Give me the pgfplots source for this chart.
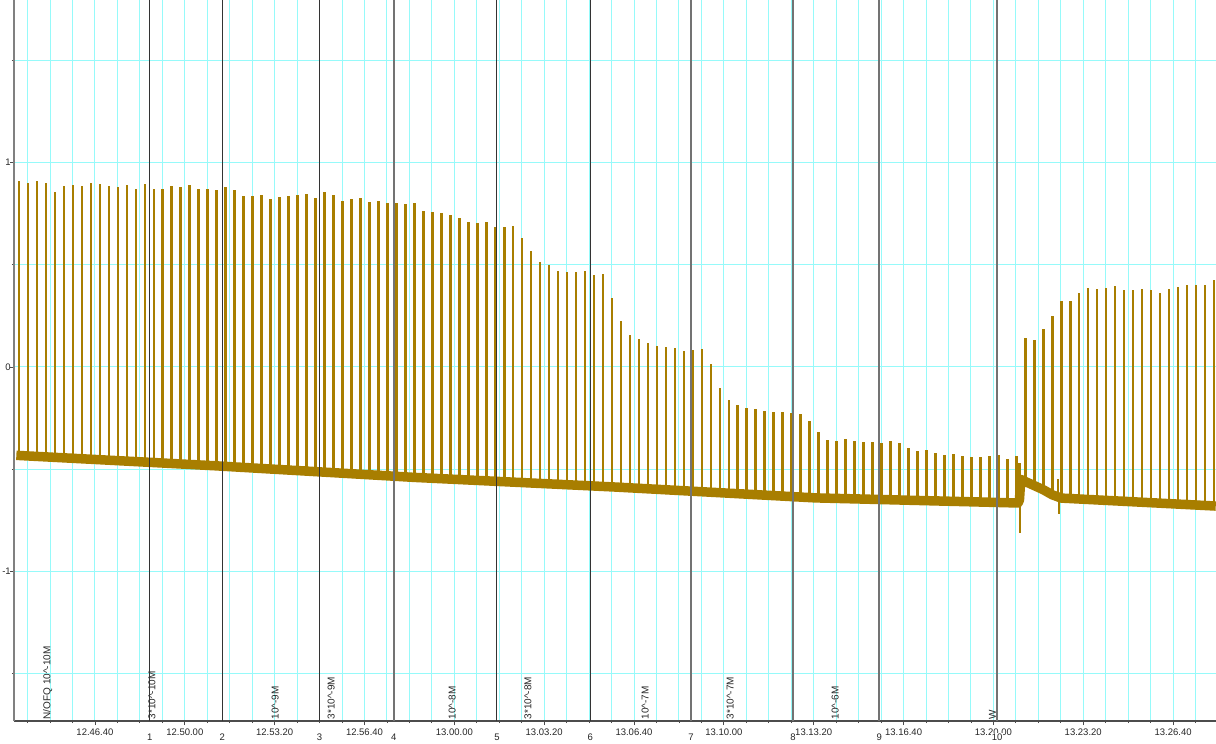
\documentclass[border=0pt]{standalone}
\usepackage{fontspec}
\setmainfont{Liberation Sans}
\usepackage{pgfplots}
\usepackage{pgfplotstable}
\pgfplotsset{compat=1.18}
\definecolor{trace}{RGB}{168,126,0}
\definecolor{gridc}{RGB}{150,250,250}
\definecolor{tanl}{RGB}{225,210,180}

\pgfplotstableread{
t b p
2631 -0.433 0.910
2651 -0.435 0.898
2671 -0.438 0.910
2691 -0.440 0.898
2711 -0.442 0.856
2731 -0.445 0.887
2751 -0.447 0.890
2771 -0.449 0.887
2791 -0.452 0.898
2811 -0.454 0.895
2831 -0.456 0.887
2851 -0.458 0.880
2871 -0.461 0.892
2891 -0.463 0.870
2911 -0.465 0.895
2931 -0.468 0.870
2951 -0.470 0.870
2971 -0.472 0.885
2991 -0.475 0.882
3011 -0.477 0.889
3031 -0.479 0.872
3051 -0.481 0.869
3071 -0.483 0.866
3091 -0.486 0.879
3111 -0.489 0.866
3131 -0.491 0.836
3151 -0.494 0.835
3171 -0.496 0.840
3191 -0.499 0.822
3211 -0.501 0.830
3231 -0.504 0.836
3251 -0.506 0.840
3271 -0.509 0.846
3291 -0.512 0.828
3311 -0.514 0.857
3331 -0.517 0.843
3351 -0.519 0.812
3371 -0.522 0.822
3391 -0.524 0.825
3411 -0.527 0.807
3431 -0.530 0.812
3451 -0.532 0.804
3471 -0.535 0.800
3491 -0.537 0.796
3511 -0.540 0.800
3531 -0.542 0.764
3551 -0.544 0.758
3571 -0.546 0.753
3591 -0.548 0.743
3611 -0.550 0.727
3631 -0.553 0.709
3651 -0.555 0.704
3671 -0.557 0.709
3691 -0.559 0.685
3711 -0.561 0.685
3731 -0.563 0.688
3751 -0.565 0.631
3771 -0.567 0.567
3791 -0.569 0.515
3811 -0.571 0.499
3831 -0.574 0.469
3851 -0.576 0.465
3871 -0.578 0.466
3891 -0.580 0.471
3911 -0.582 0.450
3931 -0.584 0.453
3951 -0.586 0.339
3971 -0.589 0.225
3991 -0.591 0.156
4011 -0.593 0.137
4031 -0.596 0.117
4051 -0.598 0.101
4071 -0.601 0.096
4091 -0.603 0.093
4111 -0.605 0.078
4131 -0.608 0.083
4151 -0.610 0.088
4171 -0.612 0.013
4191 -0.615 -0.104
4211 -0.617 -0.161
4231 -0.620 -0.186
4251 -0.622 -0.202
4271 -0.624 -0.205
4291 -0.627 -0.214
4311 -0.629 -0.220
4331 -0.631 -0.222
4351 -0.634 -0.225
4371 -0.636 -0.231
4391 -0.638 -0.264
4411 -0.640 -0.316
4431 -0.641 -0.357
4451 -0.642 -0.360
4471 -0.643 -0.354
4491 -0.645 -0.362
4511 -0.646 -0.367
4531 -0.647 -0.367
4551 -0.648 -0.372
4571 -0.649 -0.364
4591 -0.650 -0.372
4611 -0.651 -0.398
4631 -0.652 -0.411
4651 -0.654 -0.406
4671 -0.655 -0.419
4691 -0.656 -0.429
4711 -0.657 -0.427
4731 -0.658 -0.437
4751 -0.659 -0.439
4771 -0.660 -0.440
4791 -0.661 -0.437
4811 -0.663 -0.430
4831 -0.664 -0.450
4851 -0.665 -0.434
4858 -0.640 -0.470
4871 -0.560 0.140
4891 -0.580 0.130
4911 -0.600 0.186
4931 -0.625 0.249
4944 -0.630 -0.550
4951 -0.641 0.323
4971 -0.644 0.323
4991 -0.646 0.362
5011 -0.648 0.386
5031 -0.651 0.381
5051 -0.653 0.386
5071 -0.655 0.396
5091 -0.657 0.378
5111 -0.659 0.377
5131 -0.662 0.383
5151 -0.664 0.377
5171 -0.666 0.362
5191 -0.668 0.381
5211 -0.670 0.391
5231 -0.673 0.401
5251 -0.675 0.401
5271 -0.677 0.401
5291 -0.679 0.425
}\spikes

\pgfplotstableread{
t b
2625 -0.432
3067 -0.483
3512 -0.540
3958 -0.587
4403 -0.640
4855 -0.665
4858 -0.650
4861 -0.550
4871 -0.560
4891 -0.580
4911 -0.600
4931 -0.625
4951 -0.641
5295 -0.680
}\base

\begin{document}
\begin{tikzpicture}
\begin{axis}[
  width=1202pt, height=721pt, scale only axis,
  xmin=2619.7, xmax=5295.5, ymin=-1.7311, ymax=1.7946,
  axis lines*=left, axis line style={-},
  x axis line style={draw=black!70, line width=1.3pt},
  y axis line style={draw=black!50, line width=2pt},
  xtick={2800,3000,...,5200},
  xticklabels={12.46.40,12.50.00,12.53.20,12.56.40,13.00.00,13.03.20,13.06.40,13.10.00,13.13.20,13.16.40,13.20.00,13.23.20,13.26.40},
  minor xtick={2650,2700,...,5250},
  ytick={-1,0,1}, yticklabels={-1,0,1},
  minor ytick={-1.5,-0.5,0.5,1.5},
  grid=both,
  major grid style={draw=gridc, line width=1pt},
  minor grid style={draw=gridc, line width=1pt},
  tick align=outside,
  major tick length=4pt, minor tick length=2pt,
  tick style={draw=black!70, line width=0.8pt},
  every tick label/.append style={font=\fontsize{9.5}{11}\selectfont, text=black!85},
  yticklabel style={inner sep=1pt, xshift=2pt},
  clip=false,
]
\coordinate (SW) at (rel axis cs:0,0);
\coordinate (NE) at (rel axis cs:1,1);

\addplot[mark=none,
  quiver={u=0, v=\thisrow{p}-\thisrow{b}, scale arrows=1,
    every arrow/.append style={draw=trace, line width=2.6pt, -}}]
  table[x=t, y=b] {\spikes};

\addplot[trace, line width=9.5pt, line join=round, mark=none] table[x=t, y=b] {\base};
\addplot[trace, line width=1.8pt, mark=none] coordinates {(4859,-0.64) (4859,-0.81)};
\addplot[trace, line width=1.8pt, mark=none] coordinates {(4946,-0.63) (4946,-0.72)};

\tikzset{lab/.style={rotate=90, anchor=west, inner sep=1.5pt, font=\fontsize{10}{12}\selectfont, text=black!85}}
\node[lab] at (axis cs:2695,-1.7311) {N/OFQ 10\textasciicircum-10M};
\node[lab] at (axis cs:2927,-1.7311) {3*10\textasciicircum-10M};
\node[lab] at (axis cs:3201,-1.7311) {10\textasciicircum-9M};
\node[lab] at (axis cs:3326,-1.7311) {3*10\textasciicircum-9M};
\node[lab] at (axis cs:3595,-1.7311) {10\textasciicircum-8M};
\node[lab] at (axis cs:3764,-1.7311) {3*10\textasciicircum-8M};
\node[lab] at (axis cs:4025,-1.7311) {10\textasciicircum-7M};
\node[lab] at (axis cs:4214,-1.7311) {3*10\textasciicircum-7M};
\node[lab] at (axis cs:4448,-1.7311) {10\textasciicircum-6M};
\node[lab] at (axis cs:4798,-1.7311) {W};

\tikzset{evA/.style={draw=black!80, line width=1.2pt}, evB/.style={draw=black!55, line width=2pt}}
\draw[evA] (axis cs:2921.8,-1.7311) -- (axis cs:2921.8,1.7946);
\draw[evA] (axis cs:3083.5,-1.7311) -- (axis cs:3083.5,1.7946);
\draw[evA] (axis cs:3299.6,-1.7311) -- (axis cs:3299.6,1.7946);
\draw[evB] (axis cs:3465.3,-1.7311) -- (axis cs:3465.3,1.7946);
\draw[evA] (axis cs:3694.7,-1.7311) -- (axis cs:3694.7,1.7946);
\draw[evA] (axis cs:3902.4,-1.7311) -- (axis cs:3902.4,1.7946);
\draw[evB] (axis cs:4126.7,-1.7311) -- (axis cs:4126.7,1.7946);
\draw[evB] (axis cs:4353.9,-1.7311) -- (axis cs:4353.9,1.7946);
\draw[evB] (axis cs:4546.1,-1.7311) -- (axis cs:4546.1,1.7946);
\draw[evB] (axis cs:4808.2,-1.7311) -- (axis cs:4808.2,1.7946);

\foreach \tt in {2940.2,3102.8,3318.7,3450.0,3672.7,3715.0,3884.2,4146.9,4338.3,4527.6,4828.1}{
  \edef\temp{\noexpand\draw[tanl, line width=1pt] (axis cs:\tt,-1.7311) ++(0,-6pt) -- ++(0,-16pt);}
  \temp
}
\coordinate (e1) at (axis cs:2921.8,-1.7311);
\coordinate (e2) at (axis cs:3083.5,-1.7311);
\coordinate (e3) at (axis cs:3299.6,-1.7311);
\coordinate (e4) at (axis cs:3465.3,-1.7311);
\coordinate (e5) at (axis cs:3694.7,-1.7311);
\coordinate (e6) at (axis cs:3902.4,-1.7311);
\coordinate (e7) at (axis cs:4126.7,-1.7311);
\coordinate (e8) at (axis cs:4353.9,-1.7311);
\coordinate (e9) at (axis cs:4546.1,-1.7311);
\coordinate (e10) at (axis cs:4808.2,-1.7311);
\end{axis}
\foreach \i in {1,...,10}{
  \node[fill=white, inner sep=0.8pt, font=\fontsize{9.5}{11}\selectfont, text=black!85] at ([yshift=-16.5pt]e\i) {\i};
}
\pgfresetboundingbox
\useasboundingbox ([xshift=-14pt,yshift=-22pt]SW) rectangle (NE);
\end{tikzpicture}
\end{document}
